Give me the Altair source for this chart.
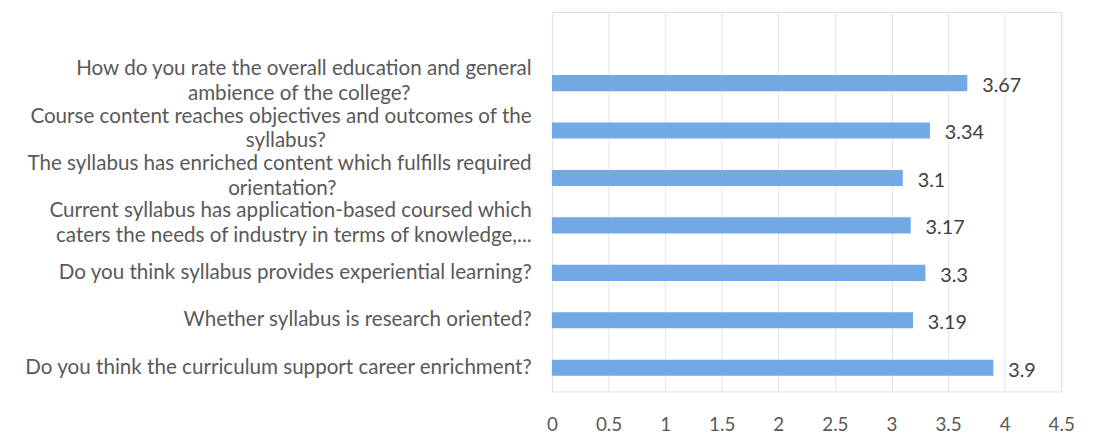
import altair as alt
import pandas as pd

# ---- data (top to bottom) ----
questions = [
    ["How do you rate the overall education and general", "ambience of the college?"],
    ["Course content reaches objectives and outcomes of the", "syllabus?"],
    ["The syllabus has enriched content which fulfills required", "orientation?"],
    ["Current syllabus has application-based coursed which", "caters the needs of industry in terms of knowledge,..."],
    ["Do you think syllabus provides experiential learning?"],
    ["Whether syllabus is research oriented?"],
    ["Do you think the curriculum support career enrichment?"],
]
scores = [3.67, 3.34, 3.1, 3.17, 3.3, 3.19, 3.9]
x_ticks = [0, 0.5, 1, 1.5, 2, 2.5, 3, 3.5, 4, 4.5]

# ---- layout / style constants ----
FONT = "Lato"
FS = 20.8
NBSP_PX = 0.256 * FS          # measured width of a no-break space in Lato
# trailing room (px) that centres a short second line under the first one
second_line_room = [122, 210, 195, 0]

def make_label(lines, room):
    if len(lines) == 1:
        return lines[0]
    pad = "\u00a0" * int(round(room / NBSP_PX))
    # zero-width space at the end keeps the padding from being trimmed
    return lines[0] + "|" + lines[1] + pad + ("\u200b" if pad else "")

labels = [make_label(q, second_line_room[i] if i < 4 else 0) for i, q in enumerate(questions)]
BLANK = " "
domain = [BLANK] + labels

df = pd.DataFrame({"q": labels, "score": scores})

y = alt.Y(
    "q:N",
    sort=domain,
    scale=alt.Scale(domain=domain, paddingInner=0.66, paddingOuter=0.33),
    axis=alt.Axis(
        title=None,
        domain=False,
        ticks=False,
        tickSize=0,
        grid=False,
        labelExpr="split(datum.label, '|')",
        labelAlign="right",
        labelBaseline="middle",
        labelLineHeight=25,
        labelOffset={"condition": {"test": "indexof(datum.value, '|') >= 0", "value": -14}, "value": 0},
        labelPadding=21,
        labelFont=FONT,
        labelFontSize=FS,
        labelColor="#595959",
        labelLimit=0,
        minExtent=546,
        maxExtent=546,
    ),
)

x = alt.X(
    "score:Q",
    scale=alt.Scale(domain=[0, 4.5], nice=False, zero=True),
    axis=alt.Axis(
        title=None,
        values=x_ticks,
        format=".1~f",
        domain=False,
        ticks=False,
        tickSize=0,
        grid=True,
        gridColor="#e4e4e4",
        gridWidth=1,
        labelPadding=24,
        labelFont=FONT,
        labelFontSize=19,
        labelColor="#595959",
        labelFlush=False,
    ),
)

bars = alt.Chart(df).mark_bar(color="#72A8E3").encode(x=x, y=y)
text = alt.Chart(df).mark_text(
    align="left", baseline="middle", dx=15, dy=3,
    font=FONT, fontSize=20, color="#404040"
).encode(x=alt.X("score:Q"), y=alt.Y("q:N", sort=domain), text=alt.Text("score:Q"))

chart = (
    alt.layer(bars, text)
    .properties(width=514, height=383, padding={"left": 3, "top": 2, "right": 10, "bottom": 0})
    .configure_view(stroke=None)
    .configure(background="white")
)

chart.save("out.html", embed_options={"renderer": "svg", "actions": False})
